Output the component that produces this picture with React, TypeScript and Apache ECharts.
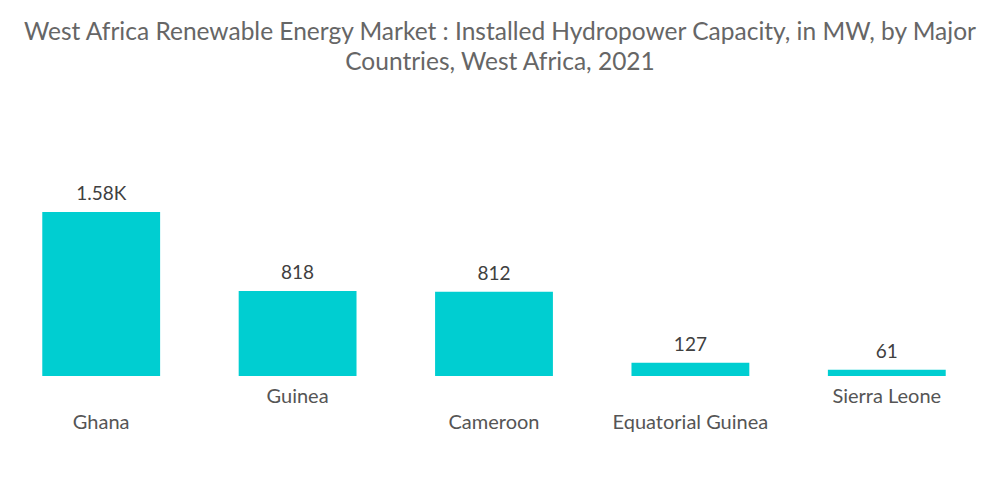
import React, { useEffect, useRef } from "react";
import * as echarts from "echarts";

const categories = ["Ghana", "Guinea", "Cameroon", "Equatorial Guinea", "Sierra Leone"];
const values = [1580, 818, 812, 127, 61];
const valueLabels = ["1.58K", "818", "812", "127", "61"];
const lowerLabel = [true, false, true, true, false];

export default function App() {
  const ref = useRef<HTMLDivElement>(null);
  useEffect(() => {
    document.body.style.margin = "0";
    if (!ref.current) return;
    const chart = echarts.init(ref.current, null, { renderer: "svg" });
    chart.setOption({
      animation: false,
      title: {
        text: "West Africa Renewable Energy Market : Installed Hydropower Capacity, in MW, by Major\nCountries, West Africa, 2021",
        left: "center",
        top: 10,
        textStyle: {
          fontFamily: "Lato",
          fontWeight: "normal",
          fontSize: 24.5,
          lineHeight: 30,
          color: "#666666",
        },
      },
      grid: { left: 3, right: 15, top: 212, bottom: 128 },
      xAxis: {
        type: "category",
        data: categories,
        axisLine: { show: false },
        axisTick: { show: false },
        axisLabel: {
          interval: 0,
          margin: 6,
          fontFamily: "Lato",
          fontSize: 20,
          lineHeight: 26,
          color: "#555555",
          formatter: (v: string, i: number) => (lowerLabel[i] ? "\n" + v : v),
        },
      },
      yAxis: {
        type: "value",
        min: 0,
        max: 1580,
        show: false,
        splitLine: { show: false },
      },
      series: [
        {
          type: "bar",
          data: values,
          barCategoryGap: "40%",
          itemStyle: { color: "#00CED1" },
          label: {
            show: true,
            position: "top",
            distance: 10,
            fontFamily: "Lato",
            fontSize: 19,
            color: "#404040",
            formatter: (p: any) => valueLabels[p.dataIndex],
          },
        },
      ],
    });
    return () => chart.dispose();
  }, []);
  return <div ref={ref} style={{ width: 1000, height: 504 }} />;
}
